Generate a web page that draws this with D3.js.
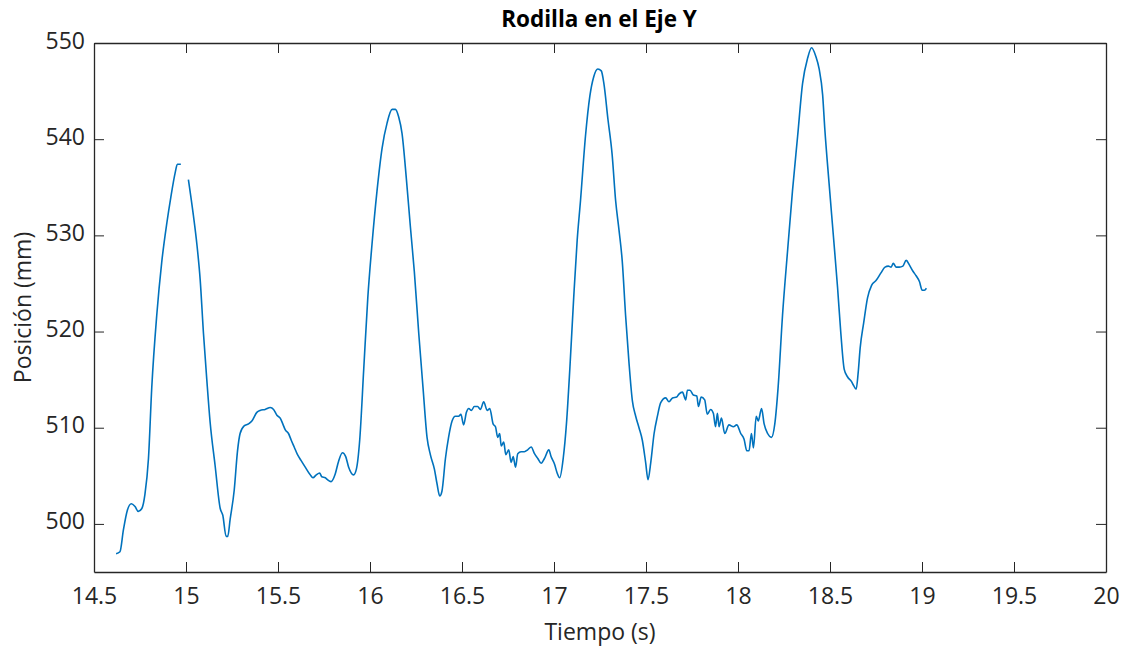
<!DOCTYPE html>
<html>
<head>
<meta charset="utf-8">
<script src="https://cdn.jsdelivr.net/npm/d3@7"></script>
<style>
  body { margin: 0; background: #fff; }
  svg { font-family: "Open Sans", "Noto Sans", sans-serif; }
  .axis path, .axis line { stroke: #262626; }
  .axis text { fill: #262626; font-size: 23px; font-family: "Open Sans", "Noto Sans", sans-serif; }
</style>
</head>
<body>
<svg id="chart"></svg>
<script>
// tiempo (s) y posicion (mm); null = hueco en la linea
let tiempo = [
  14.620, 14.641, 14.660, 14.681, 14.703, 14.723, 14.741, 14.760, 14.777, 14.796,
  14.814, 14.841, 14.868, 14.896, 14.917, 14.941, 14.953, 14.972, 14.990,
  15.013, 15.040, 15.059, 15.077, 15.095, 15.113, 15.131, 15.158, 15.186, 15.200,
  15.218, 15.227, 15.240, 15.262, 15.280, 15.294, 15.316, 15.340, 15.358, 15.385,
  15.403, 15.430, 15.458, 15.476, 15.494, 15.512, 15.526, 15.539, 15.557, 15.572,
  15.588, 15.606, 15.625, 15.648, 15.675, 15.690, 15.708, 15.726, 15.738, 15.757,
  15.769, 15.788, 15.811, 15.829, 15.850, 15.868, 15.884, 15.911, 15.926, 15.944,
  15.966, 15.988, 16.011, 16.038, 16.066, 16.093, 16.120, 16.138, 16.156, 16.174,
  16.198, 16.219, 16.241, 16.265, 16.288, 16.310, 16.328, 16.350, 16.364, 16.379,
  16.391, 16.410, 16.427, 16.446, 16.464, 16.482, 16.494, 16.509, 16.524, 16.537,
  16.551, 16.567, 16.585, 16.600, 16.618, 16.637, 16.651, 16.669, 16.682, 16.694,
  16.705, 16.713, 16.727, 16.738, 16.754, 16.767, 16.778, 16.791, 16.803, 16.821,
  16.839, 16.857, 16.876, 16.894, 16.912, 16.930, 16.948, 16.972, 16.984, 17.003,
  17.017, 17.031, 17.050, 17.068, 17.086, 17.107, 17.126, 17.144, 17.171, 17.195,
  17.216, 17.238, 17.257, 17.271, 17.293, 17.316, 17.335, 17.353, 17.371, 17.389,
  17.407, 17.426, 17.444, 17.462, 17.480, 17.498, 17.511, 17.526, 17.544, 17.562,
  17.580, 17.607, 17.625, 17.644, 17.667, 17.679, 17.698, 17.716, 17.725, 17.739,
  17.757, 17.776, 17.785, 17.800, 17.819, 17.833, 17.851, 17.866, 17.878, 17.888,
  17.897, 17.910, 17.928, 17.951, 17.975, 17.993, 18.015, 18.033, 18.048, 18.060,
  18.073, 18.084, 18.099, 18.110, 18.128, 18.142, 18.161, 18.182, 18.200, 18.218,
  18.242, 18.269, 18.296, 18.324, 18.351, 18.378, 18.400, 18.423, 18.441, 18.460,
  18.472, 18.495, 18.519, 18.541, 18.559, 18.577, 18.595, 18.617, 18.628, 18.642,
  18.653, 18.664, 18.683, 18.704, 18.726, 18.750, 18.777, 18.799, 18.817, 18.832,
  18.844, 18.859, 18.877, 18.896, 18.914, 18.932, 18.950, 18.968, 18.986, 19.001,
  19.013, 19.024
];

let posicion = [
  496.9, 497.1, 499.4, 501.4, 502.1, 501.8, 501.3, 501.6, 503.1, 506.8,
  514.2, 521.7, 527.2, 531.3, 533.9, 536.5, 537.4, 537.4, null,
  535.8, 532.1, 529.1, 525.4, 519.8, 515.0, 510.6, 506.1, 501.6, 500.9,
  498.7, 498.7, 500.5, 503.5, 507.6, 509.4, 510.2, 510.4, 510.7, 511.6,
  511.8, 511.9, 512.1, 511.9, 511.3, 511.0, 510.4, 509.8, 509.4, 508.7,
  508.0, 507.2, 506.6, 505.9, 505.1, 504.8, 505.1, 505.3, 504.9, 504.8,
  504.6, 504.4, 505.2, 506.5, 507.4, 507.0, 505.9, 505.1, 505.7, 508.7,
  516.1, 523.5, 529.1, 534.6, 539.1, 541.7, 543.1, 543.1, 542.3, 540.6,
  535.8, 531.0, 526.2, 519.8, 514.2, 509.0, 507.2, 505.7, 504.2, 502.9,
  503.4, 506.8, 509.0, 510.7, 511.2, 511.2, 511.4, 510.3, 511.6, 512.0,
  511.8, 512.2, 512.2, 511.9, 512.7, 511.8, 512.0, 510.4, 510.1, 509.0,
  509.4, 508.1, 508.5, 507.2, 507.7, 506.4, 507.0, 505.9, 507.3, 507.5,
  507.5, 507.7, 508.0, 507.3, 506.8, 506.3, 506.8, 507.7, 507.0, 506.2,
  505.3, 504.8, 506.8, 510.5, 516.1, 523.5, 529.5, 533.6, 540.3, 544.5,
  546.5, 547.3, 547.1, 545.8, 542.1, 538.4, 533.6, 530.6, 527.3, 521.7,
  516.9, 512.8, 511.2, 510.0, 508.7, 506.4, 504.6, 506.4, 509.4, 511.2,
  512.6, 513.1, 512.7, 513.1, 513.2, 513.5, 513.7, 512.9, 513.9, 513.9,
  513.4, 513.3, 512.2, 513.2, 512.9, 511.4, 511.9, 511.5, 510.1, 511.5,
  510.1, 511.0, 509.4, 510.3, 510.1, 510.3, 509.4, 508.8, 507.6, 507.6,
  509.4, 507.9, 511.2, 510.7, 512.0, 510.4, 509.4, 509.0, 510.4, 514.2,
  521.7, 528.3, 534.6, 540.3, 545.8, 548.4, 549.5, 548.6, 547.3, 544.6,
  541.0, 535.4, 529.8, 524.6, 519.8, 516.1, 515.3, 514.8, 514.4, 514.0,
  515.7, 518.3, 520.9, 523.5, 524.8, 525.3, 526.1, 526.7, 526.8, 526.7,
  527.1, 526.7, 526.7, 526.8, 527.4, 526.9, 526.3, 525.8, 525.2, 524.3,
  524.3, 524.5
];

let xTicks = [14.5, 15, 15.5, 16, 16.5, 17, 17.5, 18, 18.5, 19, 19.5, 20];
let yTicks = [500, 510, 520, 530, 540, 550];

let config = {
  'svg': { width: 1126, height: 648 },
  'plot': { x: 94, y: 43, width: 1012, height: 529 }
};

let svg = d3.select("svg#chart")
  .attr('width', config.svg.width)
  .attr('height', config.svg.height);

let scale = {};
scale.x = d3.scaleLinear().domain([14.5, 20]).range([0, config.plot.width]);
scale.y = d3.scaleLinear().domain([495, 550]).range([config.plot.height, 0]);

let plot = svg.append('g')
  .attr('transform', translate(config.plot.x, config.plot.y));

let fmt = d => d3.format("~g")(d);

// ejes con marcas hacia dentro, en los cuatro lados
plot.append("g").attr("class", "axis")
  .attr("transform", translate(0, config.plot.height))
  .call(d3.axisBottom(scale.x).tickValues(xTicks).tickFormat(fmt)
    .tickSize(-10).tickSizeOuter(0).tickPadding(16));

plot.append("g").attr("class", "axis")
  .call(d3.axisTop(scale.x).tickValues(xTicks).tickFormat("")
    .tickSize(-10).tickSizeOuter(0));

let gy = plot.append("g").attr("class", "axis")
  .call(d3.axisLeft(scale.y).tickValues(yTicks).tickFormat(fmt)
    .tickSize(-10).tickSizeOuter(0).tickPadding(9));
gy.selectAll("text").attr("dy", "0.22em");

plot.append("g").attr("class", "axis")
  .attr("transform", translate(config.plot.width, 0))
  .call(d3.axisRight(scale.y).tickValues(yTicks).tickFormat("")
    .tickSize(-10).tickSizeOuter(0));

plot.selectAll(".axis path").attr("stroke-width", 1.3);

let data = tiempo.map((t, i) => ({ t: t, v: posicion[i] }));

let line = d3.line()
  .defined(d => d.v !== null)
  .x(d => scale.x(d.t))
  .y(d => scale.y(d.v))
  .curve(d3.curveMonotoneX);

plot.append("path")
  .datum(data)
  .attr("fill", "none")
  .attr("stroke", "#0072BD")
  .attr("stroke-width", 1.6)
  .attr("stroke-linejoin", "round")
  .attr("d", line);

svg.append("text")
  .text("Rodilla en el Eje Y")
  .attr("x", 599)
  .attr("y", 27)
  .attr("text-anchor", "middle")
  .attr("font-size", "22.5px")
  .attr("font-weight", "bold")
  .attr("fill", "#000");

svg.append("text")
  .text("Tiempo (s)")
  .attr("x", config.plot.x + config.plot.width / 2)
  .attr("y", 640)
  .attr("text-anchor", "middle")
  .attr("font-size", "23px")
  .attr("fill", "#262626");

svg.append("text")
  .text("Posición (mm)")
  .attr("transform", translate(31, config.plot.y + config.plot.height / 2) + " rotate(-90)")
  .attr("text-anchor", "middle")
  .attr("font-size", "23px")
  .attr("fill", "#262626");

function translate(x, y) {
  return 'translate(' + x + ',' + y + ')';
}
</script>
</body>
</html>
